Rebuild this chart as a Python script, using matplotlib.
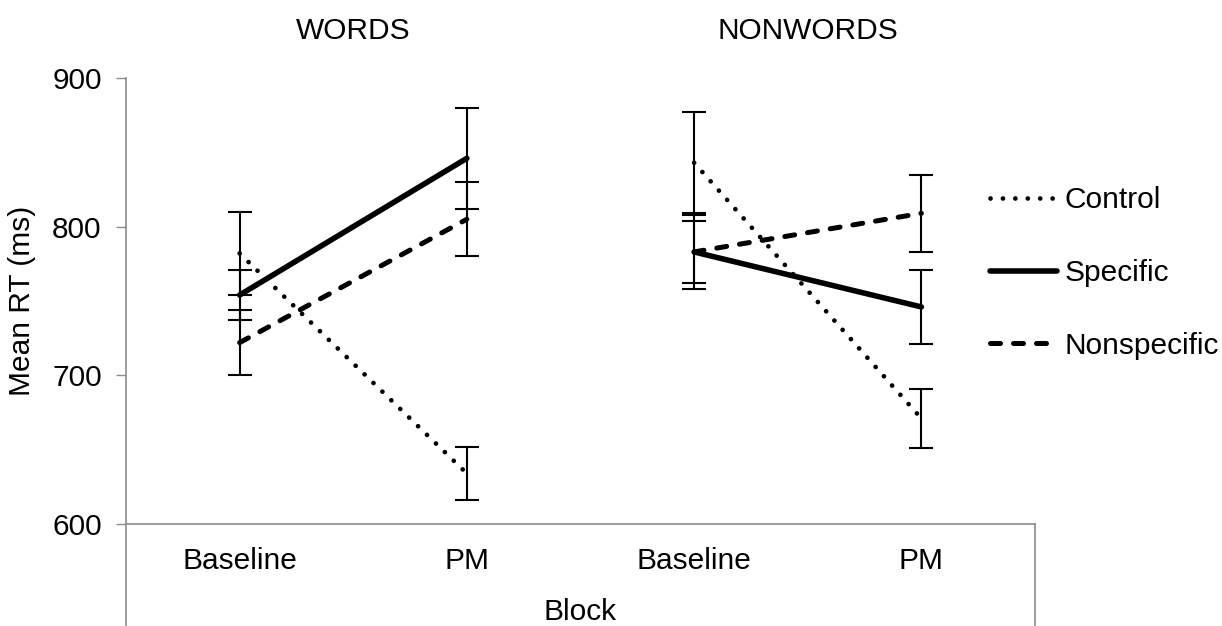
import matplotlib
matplotlib.use("Agg")
from matplotlib import pyplot as plt
from matplotlib import transforms

plt.rcParams['font.family'] = ['Liberation Sans', 'DejaVu Sans']
plt.rcParams['font.size'] = 21.5

groups = ['WORDS', 'NONWORDS']
blocks = ['Baseline', 'PM']

# means and error bars, one pair (Baseline, PM) per group
control_mean = [[782, 634], [843, 671]]
control_err = [[28, 18], [34, 20]]
specific_mean = [[754, 846], [783, 746]]
specific_err = [[17, 34], [25, 25]]
nonspec_mean = [[722, 805], [783, 809]]
nonspec_err = [[22, 25], [21, 26]]

W, H = 1222, 626
fig = plt.figure(figsize=(W / 100, H / 100), dpi=100)
ax = fig.add_axes([126 / W, (H - 524) / H, 909 / W, 446 / H])

grey = '#8c8c8c'
series = [
    ('Control', control_mean, control_err,
     dict(lw=3.4, linestyle=(0, (0.01, 2.62)), dash_capstyle='round')),
    ('Specific', specific_mean, specific_err,
     dict(lw=4.0, linestyle='-', solid_capstyle='round')),
    ('Nonspecific', nonspec_mean, nonspec_err,
     dict(lw=3.6, linestyle=(0, (2.0, 2.6)), dash_capstyle='round')),
]

for name, means, errs, style in series:
    for g in range(len(groups)):
        xs = [2 * g + 0.5, 2 * g + 1.5]
        ax.errorbar(xs, means[g], yerr=errs[g], fmt='none', ecolor='black',
                    elinewidth=1.5, capsize=8.6, capthick=1.5, zorder=2)
        ax.plot(xs, means[g], color='black', label=name if g == 0 else None,
                zorder=3, **style)

ax.set_xlim(0, 4)
ax.set_ylim(600, 900)
ax.set_yticks([600, 700, 800, 900])
ax.set_xticks([])
ax.tick_params(axis='y', direction='out', length=7, width=1, color=grey, pad=10.5)

for s in ['top', 'right']:
    ax.spines[s].set_visible(False)
for s in ['left', 'bottom']:
    ax.spines[s].set_color(grey)
    ax.spines[s].set_linewidth(1.2)

# lower level of the category axis
low = -(626 - 524) / 446
ax.plot([0, 0], [0, low], transform=ax.transAxes, color=grey, lw=1.2, clip_on=False)
ax.plot([1, 1], [0, low], transform=ax.transAxes, color=grey, lw=1.2, clip_on=False)

trans = transforms.blended_transform_factory(ax.transData, ax.transAxes)
for g, gname in enumerate(groups):
    for b, bname in enumerate(blocks):
        ax.text(2 * g + b + 0.5, -45 / 446, bname, transform=trans,
                ha='center', va='baseline')
    ax.text(2 * g + 1, 485 / 446, gname, transform=trans,
            ha='center', va='baseline')

ax.text(0.5, -96 / 446, 'Block', transform=ax.transAxes, ha='center', va='baseline')
fig.text(22 / W, 1 - 301 / H, 'Mean RT (ms)', rotation=90, ha='center', va='center')

ax.legend(loc='center left', bbox_to_anchor=(990 / W, 1 - 273 / H),
          bbox_transform=fig.transFigure, frameon=False, borderpad=0,
          borderaxespad=0, handlelength=2.25, handletextpad=0.25,
          labelspacing=1.5)

fig.savefig('out.png', dpi=100)
